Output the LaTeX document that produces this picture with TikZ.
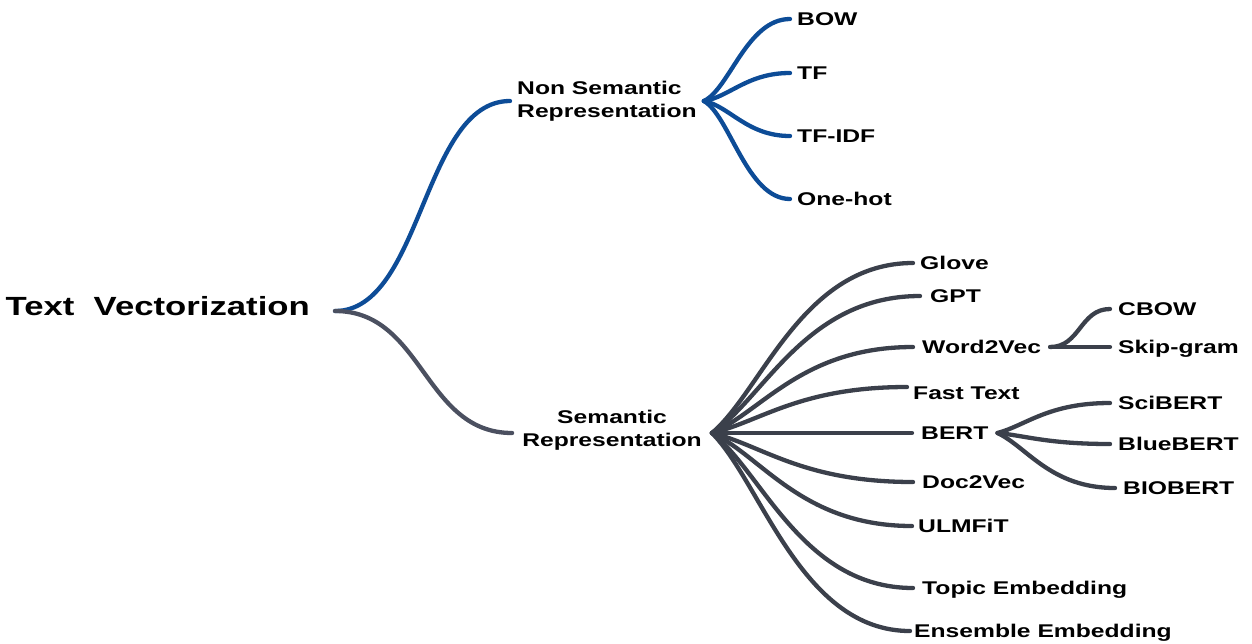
\documentclass[tikz,border=0pt]{standalone}
\usepackage{fontspec}
\setmainfont{Liberation Sans}
\newfontfamily\lblfont[FakeStretch=1.34]{Liberation Sans}
\newfontfamily\rootfont[FakeStretch=1.32]{Liberation Sans}
\usetikzlibrary{calc}
\definecolor{cblue}{HTML}{0D4C97}
\definecolor{cgray}{HTML}{3B404B}
\definecolor{cgrayl}{HTML}{4B5060}
\begin{document}
\begin{tikzpicture}[x=1pt,y=-1pt,
  lbl/.style={font=\lblfont\bfseries\fontsize{18.4}{23}\selectfont, inner ysep=0pt, inner xsep=7pt,
              text height=13pt, text depth=0pt, anchor=west, text=black},
  mid/.style={font=\lblfont\bfseries\fontsize{18.4}{23}\selectfont, inner ysep=0pt, inner xsep=7pt, text=black},
  rootlbl/.style={font=\rootfont\bfseries\fontsize{26.3}{30}\selectfont, inner ysep=0pt, inner xsep=25pt,
              text height=9pt, text depth=0pt, anchor=east, text=black},
  sS/.style={to path={let \p1=(\tikztostart), \p2=(\tikztotarget) in
     .. controls ({\x1+0.5*(\x2-\x1)},{\y1}) and ({\x1+0.5*(\x2-\x1)},{\y2}) .. (\tikztotarget)}},
  bfan/.style={to path={let \p1=(\tikztostart), \p2=(\tikztotarget) in
     .. controls ({\x1+0.3*(\x2-\x1)},{\y1+0.15*(\y2-\y1)}) and ({\x1+0.5*(\x2-\x1)},{\y2}) .. (\tikztotarget)}},
  gfan/.style={to path={let \p1=(\tikztostart), \p2=(\tikztotarget) in
     .. controls ({\x1+0.25*(\x2-\x1)},{\y1+0.25*(\y2-\y1)}) and ({\x1+0.45*(\x2-\x1)},{\y2}) .. (\tikztotarget)}},
  bl/.style={draw=cblue, line width=4.3pt, line cap=round},
  gl/.style={draw=cgray, line width=4.3pt, line cap=round},
  gll/.style={draw=cgrayl, line width=4.3pt, line cap=round},
]
\useasboundingbox (0,0) rectangle (1252,643);

% root and first level
\node[rootlbl] (root) at (335,311) {Text\ \ Vectorization};
\node[mid, anchor=west, align=left] (ns) at (510,101) {Non Semantic\\Representation};
\node[mid, align=center, inner xsep=10pt] (sem) at (612,430) {Semantic\\Representation};

% non semantic leaves
\node[lbl] (bow) at (790,19) {BOW};
\node[lbl] (tf) at (790,73) {TF};
\node[lbl] (tfidf) at (790,136) {TF-IDF};
\node[lbl] (onehot) at (790,199) {One-hot};

% semantic leaves
\node[lbl] (glove) at (913,263) {Glove};
\node[lbl, inner xsep=10pt] (gpt) at (920,296) {GPT};
\node[lbl, inner xsep=9pt] (w2v) at (913,347) {Word2Vec};
\node[lbl, inner xsep=6pt] (fast) at (907,393) {Fast Text};
\node[lbl, inner xsep=9pt] (bert) at (912,433) {BERT};
\node[lbl, inner xsep=9pt] (d2v) at (913,482) {Doc2Vec};
\node[lbl, inner xsep=6pt] (ulm) at (912,526) {ULMFiT};
\node[lbl, inner xsep=9pt] (topic) at (913,588) {Topic Embedding};
\node[lbl, inner xsep=4pt] (ens) at (910,631) {Ensemble Embedding};

% third level
\node[lbl, inner xsep=8pt] (cbow) at (1110,309) {CBOW};
\node[lbl, inner xsep=8pt] (skip) at (1110,347) {Skip-gram};
\node[lbl, inner xsep=8pt] (sci) at (1110,403) {SciBERT};
\node[lbl, inner xsep=8pt] (blue) at (1110,444) {BlueBERT};
\node[lbl, inner xsep=8pt] (bio) at (1115,488) {BIOBERT};

% connectors
\draw[bl] (root.east) to[sS] (ns.west);
\draw[gll] (root.east) to[sS] ([yshift=-3pt]sem.west);

\foreach \t in {bow,tf,tfidf,onehot}
  \draw[bl] (ns.east) to[bfan] (\t.west);

\foreach \t in {glove,gpt,w2v,bert,d2v,ulm,topic,ens}
  \draw[gl] ([yshift=-3pt]sem.east) to[gfan] (\t.west);
\draw[gl] ([yshift=-3pt]sem.east) to[gfan] ([yshift=6pt]fast.west);

\draw[gl] (w2v.east) to[sS] (cbow.west);
\draw[gl] (w2v.east) to[sS] (skip.west);
\draw[gl] (bert.east) to[gfan] (sci.west);
\draw[gl] (bert.east) to[gfan] (blue.west);
\draw[gl] (bert.east) to[gfan] (bio.west);
\end{tikzpicture}
\end{document}
